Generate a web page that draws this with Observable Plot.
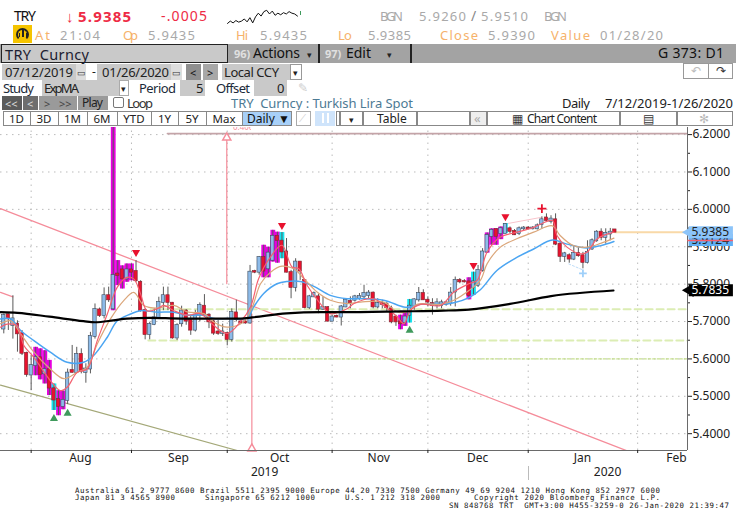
<!DOCTYPE html>
<html><head><meta charset="utf-8">
<script src="https://cdn.jsdelivr.net/npm/d3@7"></script>
<script src="https://cdn.jsdelivr.net/npm/@observablehq/plot@0.6"></script>
<style>
html,body{margin:0;padding:0;background:#fff;width:736px;height:530px;overflow:hidden;font-family:"Noto Sans",sans-serif}
#page{position:relative;width:736px;height:530px;overflow:hidden}
#page>*{position:absolute}
.t{white-space:pre;line-height:1}
.b{box-sizing:border-box}
svg{display:block}
</style></head><body><div id="page"></div>
<script>
// ---- candle data (index = trading-day position) ----
const direction = ["brbrrrbbrb","rrrbbrbrbb","brbrbrrbrr","rrbbbbrrbb","rrbbrrrrbr","brrrbrbrbb","rrrrbrrbbr","brbrbbrbbb","brbrrrrrbb","bbrrrbbbbb","rrrbbbbbrb","brrbbrbbbr","brrbrbrrbb","brbbr"].join("");
const highs = [5.720,5.720,5.769,5.702,5.676,5.618,5.609,5.631,5.627,5.622,5.596,5.533,5.515,5.514,5.573,5.636,5.631,5.627,5.587,5.671,5.747,5.736,5.790,5.792,6.25,5.863,5.849,5.854,5.854,5.863,5.809,5.734,5.698,5.734,5.765,5.792,5.792,5.751,5.694,5.741,5.732,5.717,5.730,5.750,5.772,5.721,5.703,5.703,5.693,5.672,5.734,5.757,5.701,5.703,5.850,5.837,5.874,5.904,5.899,5.944,5.939,5.938,5.922,5.837,5.868,5.859,5.810,5.770,5.779,5.773,5.766,5.739,5.717,5.717,5.743,5.761,5.766,5.770,5.775,5.797,5.783,5.779,5.761,5.757,5.752,5.741,5.717,5.717,5.727,5.759,5.761,5.791,5.785,5.766,5.761,5.761,5.757,5.752,5.791,5.819,5.815,5.812,5.817,5.832,5.850,5.895,5.937,5.948,5.948,5.953,5.962,5.953,5.946,5.953,5.954,5.954,5.954,5.961,5.980,5.988,5.983,5.988,5.916,5.885,5.881,5.903,5.899,5.885,5.916,5.921,5.943,5.948,5.948,5.949,5.945];
const bodyTops = [5.716,5.718,5.707,5.693,5.667,5.615,5.582,5.604,5.603,5.571,5.571,5.520,5.491,5.489,5.562,5.569,5.612,5.612,5.573,5.660,5.732,5.731,5.769,5.769,5.823,5.827,5.838,5.838,5.838,5.834,5.805,5.729,5.692,5.710,5.751,5.769,5.769,5.749,5.689,5.728,5.728,5.703,5.717,5.743,5.741,5.717,5.699,5.672,5.672,5.668,5.724,5.723,5.699,5.699,5.832,5.834,5.871,5.871,5.883,5.928,5.928,5.915,5.886,5.831,5.859,5.859,5.810,5.766,5.775,5.766,5.737,5.737,5.712,5.714,5.739,5.757,5.754,5.766,5.767,5.775,5.776,5.776,5.748,5.748,5.746,5.734,5.712,5.699,5.712,5.741,5.758,5.775,5.775,5.757,5.748,5.750,5.750,5.750,5.776,5.810,5.810,5.807,5.806,5.806,5.837,5.886,5.930,5.944,5.946,5.948,5.960,5.948,5.941,5.948,5.950,5.950,5.950,5.956,5.972,5.977,5.974,5.972,5.907,5.881,5.876,5.882,5.882,5.876,5.885,5.916,5.939,5.939,5.936,5.939,5.945];
const bodyBottoms = [5.680,5.707,5.689,5.667,5.615,5.558,5.557,5.582,5.558,5.560,5.522,5.490,5.473,5.473,5.489,5.564,5.564,5.567,5.564,5.573,5.660,5.716,5.716,5.758,5.734,5.823,5.814,5.814,5.832,5.809,5.729,5.665,5.665,5.692,5.710,5.751,5.751,5.656,5.656,5.694,5.701,5.677,5.677,5.717,5.717,5.699,5.669,5.668,5.668,5.652,5.652,5.705,5.696,5.696,5.696,5.832,5.832,5.835,5.841,5.864,5.917,5.886,5.832,5.791,5.791,5.835,5.737,5.737,5.766,5.733,5.733,5.701,5.701,5.712,5.712,5.739,5.750,5.757,5.761,5.766,5.770,5.739,5.739,5.746,5.737,5.699,5.699,5.694,5.697,5.717,5.741,5.758,5.758,5.752,5.743,5.743,5.743,5.746,5.748,5.779,5.806,5.806,5.770,5.791,5.797,5.837,5.886,5.928,5.928,5.935,5.935,5.941,5.932,5.935,5.948,5.948,5.948,5.948,5.959,5.970,5.968,5.907,5.874,5.874,5.867,5.867,5.876,5.858,5.858,5.894,5.916,5.925,5.925,5.934,5.939];
const lows = [5.667,5.676,5.653,5.618,5.609,5.551,5.515,5.555,5.544,5.533,5.502,5.462,5.448,5.464,5.478,5.562,5.562,5.560,5.535,5.560,5.653,5.711,5.707,5.751,5.729,5.796,5.787,5.805,5.809,5.805,5.725,5.651,5.651,5.689,5.707,5.729,5.729,5.653,5.649,5.685,5.690,5.663,5.672,5.699,5.712,5.681,5.663,5.663,5.660,5.635,5.645,5.699,5.694,5.693,5.693,5.828,5.824,5.817,5.817,5.859,5.856,5.868,5.830,5.761,5.779,5.810,5.734,5.732,5.764,5.721,5.730,5.699,5.699,5.710,5.688,5.737,5.734,5.752,5.757,5.761,5.761,5.734,5.734,5.734,5.726,5.694,5.687,5.678,5.687,5.696,5.730,5.752,5.757,5.739,5.717,5.734,5.734,5.741,5.741,5.739,5.801,5.803,5.758,5.770,5.791,5.832,5.883,5.904,5.904,5.919,5.935,5.935,5.930,5.930,5.943,5.945,5.945,5.945,5.948,5.965,5.961,5.903,5.858,5.858,5.856,5.863,5.872,5.841,5.854,5.890,5.912,5.916,5.907,5.916,5.939];
const magentaBars = [7,8,9,10,12,13,24,25,26,27,28,57,58,59,60,87,88,102,106,107,108,109];
const cyanBars = [11,61,89,103,110];

// ---- moving averages ----
const blueX = [-0.72,1.5,3.7,6.6,10.2,13.9,17.5,19.7,22.7,24.9,27.8,30,33.6,37.3,40.2,43.9,46,49,53.4,54.8,57,59.9,62.1,65,68,71.6,75.3,78.2,83.3,87.7,89.2,91.4,95.8,98.7,102,104.5,108.2,112.6,116.2,120.3,123.5,127.9,130.9,133.8];
const blueY = [5.707,5.707,5.676,5.649,5.618,5.591,5.591,5.609,5.658,5.702,5.720,5.729,5.725,5.725,5.717,5.717,5.708,5.708,5.710,5.739,5.775,5.801,5.807,5.807,5.794,5.770,5.761,5.761,5.757,5.739,5.739,5.746,5.746,5.750,5.764,5.785,5.837,5.872,5.894,5.918,5.907,5.897,5.903,5.914];
const tanX = [-0.72,1.5,3.7,6.6,10.2,13.2,16.1,18.3,20.5,23.4,26.3,28.5,30.7,33.6,37.3,40.2,43.9,46,49,52.6,54.5,56.3,58.5,61,63.6,65.8,68.7,71.6,75.3,78.2,83.3,86.3,88.5,90.6,95.8,98.7,102,104.5,106,108.9,112.6,116.2,120.3,122,124.9,127.9,130.9,133.8];
const tanY = [5.694,5.702,5.667,5.618,5.573,5.547,5.564,5.578,5.640,5.707,5.756,5.778,5.743,5.736,5.743,5.726,5.721,5.699,5.685,5.699,5.739,5.801,5.832,5.848,5.841,5.815,5.779,5.757,5.748,5.752,5.752,5.726,5.726,5.746,5.746,5.757,5.783,5.810,5.855,5.899,5.922,5.939,5.956,5.930,5.903,5.899,5.909,5.923];
const pinkX = [-0.72,0.7,2.9,4.4,6.6,10.2,12.4,13.9,16.1,18.3,20.5,22.7,24.9,27,28.5,30,31.4,33.6,35.1,37.3,40.2,43.1,46,49,51.9,54.1,55.9,58.5,61,63.2,64.7,66.5,69.4,71.6,75.3,76.8,81.1,83.3,86.3,87.7,89.2,91.4,95.8,98.7,102,103.8,106,108.9,112.6,116.2,120.3,121.3,123.5,126.5,127.9,130.1,133.8];
const pinkY = [5.685,5.693,5.689,5.636,5.604,5.542,5.515,5.524,5.564,5.573,5.649,5.720,5.792,5.818,5.814,5.774,5.729,5.734,5.743,5.729,5.717,5.721,5.690,5.668,5.699,5.739,5.815,5.873,5.904,5.846,5.841,5.797,5.748,5.721,5.734,5.748,5.761,5.743,5.712,5.694,5.730,5.746,5.743,5.779,5.801,5.810,5.886,5.926,5.939,5.952,5.970,5.930,5.899,5.881,5.885,5.921,5.939];
const blackX = [-0.72,3,10,17.5,20,24,27,32,39,52,54.5,62,69.5,74,87,96.4,102,111,120,133.7];
const blackY = [5.725,5.723,5.713,5.701,5.698,5.703,5.708,5.710,5.708,5.708,5.711,5.722,5.725,5.725,5.727,5.729,5.732,5.747,5.768,5.783];

// ---- drawn lines, signals, labels ----
const signalDownX = [29,61,103,110]; const signalDownY = [5.885,5.957,5.850,5.981];
const signalUpX = [11,14,89]; const signalUpY = [5.440,5.454,5.676];
const monthTicks = [6,28,49,72,93,115,139];
const monthNames = ["Aug","Sep","Oct","Nov","Dec","Jan","Feb"];
const monthLabelAt = [16.8,38.3,60.5,82.2,103.9,126.9,147.5];
const yearNames = ["2019","2020"]; const yearLabelAt = [57.2,132.4];
const priceTicks = [5.4,5.5,5.6,5.7,5.8,5.9,6.0,6.1,6.2];
const minorTicks = [5.45,5.55,5.65,5.75,5.85,5.95,6.05,6.15];
const spark = [5.47,5.56,5.49,5.58,5.52,5.56,5.64,5.53,5.69,5.49,5.72,5.86,5.75,5.92,5.97,5.83,5.94,5.78,5.86,5.80,5.88,5.83,5.92,5.86,5.83,5.75];

const X0=-0.72, X1=149.93, Y0=5.355, Y1=6.219;
const rows=(xs,ys)=>xs.map((x,i)=>({x,y:ys[i]}));
const bars=highs.map((h,i)=>({i,h,t:bodyTops[i],b:bodyBottoms[i],l:lows[i],d:direction[i]}));
const seg=(x1,y1,x2,y2)=>[{x:x1,y:y1},{x:x2,y:y2}];
const line=(data,o)=>Plot.line(data,{x:"x",y:"y",clip:true,...o});

const chart=Plot.plot({
  width:736,height:365,marginLeft:0,marginRight:49,marginTop:10,marginBottom:32,
  x:{domain:[X0,X1],range:[0,687]},y:{domain:[Y0,Y1],range:[333,10]},
  style:{fontFamily:"Noto Sans",fontSize:"12px",background:"transparent",color:"#222"},
  marks:[
    Plot.ruleY(priceTicks,{stroke:"#bbb",strokeWidth:1,strokeDasharray:"1.5,4.5",x1:X0,x2:X1}),
    Plot.ruleX(monthTicks,{stroke:"#bbb",strokeWidth:1,strokeDasharray:"1.5,4.5",y1:Y0,y2:Y1}),
    line(seg(-0.72,6.002,136.7,5.354),{stroke:"#f58c9a",strokeWidth:1.3}),
    line(seg(-0.72,5.778,2,5.766),{stroke:"#f58c9a",strokeWidth:1.2}),
    line(seg(-0.72,5.530,51.2,5.355),{stroke:"#a4a878",strokeWidth:1.2}),
    line(seg(35.9,6.2027,X1,6.2027),{stroke:"#c4a4a8",strokeWidth:1.8}),
    line(seg(32.2,5.733,X1,5.733),{stroke:"#dcedb4",strokeWidth:2,strokeDasharray:"7,4"}),
    line(seg(31.7,5.649,X1,5.649),{stroke:"#dcedb4",strokeWidth:2,strokeDasharray:"7,4"}),
    line(seg(30.8,5.600,X1,5.600),{stroke:"#c6e08e",strokeWidth:1.3,strokeDasharray:"2.5,2"}),
    line(seg(48.9,6.2,48.9,5.801),{stroke:"#f58c9a",strokeWidth:1.2}),
    line(seg(54.4,5.72,54.4,5.355),{stroke:"#f58c9a",strokeWidth:1.2}),
    line(seg(110,5.961,118,5.979),{stroke:"#f8c4cc",strokeWidth:1}),
    line(seg(123.9,5.854,126.8,5.839),{stroke:"#bcdcf8",strokeWidth:1,strokeDasharray:"2,2"}),
    line(seg(134,5.9385,X1,5.9385),{stroke:"#f9d9a8",strokeWidth:2}),
    Plot.dot([{x:48.9,y:6.192}],{x:"x",y:"y",symbol:"triangle",r:3,stroke:"#f58c9a",fill:"white"}),
    Plot.dot([{x:54.4,y:5.36}],{x:"x",y:"y",symbol:"triangle",r:3,stroke:"#f58c9a",fill:"white"}),
    Plot.ruleX(bars.filter(d=>magentaBars.includes(d.i)),{x:"i",y1:"l",y2:"h",stroke:"#e800e0",strokeWidth:4.8,clip:true}),
    Plot.ruleX(bars.filter(d=>cyanBars.includes(d.i)),{x:"i",y1:"l",y2:"h",stroke:"#14e6f2",strokeWidth:4.8,clip:true}),
    Plot.ruleX(bars,{x:"i",y1:"l",y2:"h",stroke:"#5a5a5a",strokeWidth:1,clip:true}),
    Plot.rect(bars,{x1:d=>d.i-0.37,x2:d=>d.i+0.37,y1:"b",y2:"t",insetTop:-0.5,insetBottom:-0.5,
      fill:d=>d.d==="b"?"#8dbbe9":"#e8122e",stroke:d=>d.d==="b"?"#3c4a5a":"#7a2a34",strokeWidth:0.6}),
    line(rows(blueX,blueY),{stroke:"#4ba5f2",strokeWidth:1.5,curve:"catmull-rom"}),
    line(rows(tanX,tanY),{stroke:"#dba67a",strokeWidth:1.2,curve:"catmull-rom"}),
    line(rows(pinkX,pinkY),{stroke:"#f4606f",strokeWidth:1.2,curve:"catmull-rom"}),
    line(rows(blackX,blackY),{stroke:"#000",strokeWidth:2.2,curve:"monotone-x"}),
    Plot.dot(rows(signalDownX,signalDownY),{x:"x",y:"y",symbol:"triangle",r:3,fill:"#e8122e",rotate:180}),
    Plot.dot(rows(signalUpX,signalUpY),{x:"x",y:"y",symbol:"triangle",r:3,fill:"#3f9a5c"}),
    Plot.dot([{x:118,y:6.002}],{x:"x",y:"y",symbol:"plus",r:3,stroke:"#e8122e",strokeWidth:1.8}),
    Plot.dot([{x:127,y:5.829}],{x:"x",y:"y",symbol:"plus",r:2.6,stroke:"#9fd0fa",strokeWidth:1.8}),
    // frame
    Plot.ruleY([Y0],{x1:X0,x2:X1,stroke:"#6a6a6a",strokeWidth:1}),
    Plot.ruleX([X1],{y1:Y0,y2:Y1,stroke:"#6a6a6a",strokeWidth:1}),
    // axes
    Plot.axisY(priceTicks,{anchor:"right",label:null,tickSize:4,tickPadding:1,tickFormat:d3.format(".4f"),fontSize:12,fill:"#222"}),
    Plot.axisY(minorTicks,{anchor:"right",label:null,tickSize:2,tickFormat:()=>""}),
    Plot.axisX(monthTicks,{label:null,tickSize:3,tickFormat:()=>""}),
    Plot.axisX(monthLabelAt,{label:null,tickSize:0,tickPadding:3,tickFormat:(d,i)=>monthNames[i],fontSize:12,fill:"#222"}),
    Plot.axisX(yearLabelAt,{label:null,tickSize:0,tickPadding:17,tickFormat:(d,i)=>yearNames[i],fontSize:12,fill:"#222"}),
    // end-of-series tags
    Plot.ruleY([5.7835],{x1:150.3,x2:160,stroke:"#000",strokeWidth:12}),
    Plot.dot([{x:150.4,y:5.7835}],{x:"x",y:"y",symbol:"triangle",r:5,fill:"#000",rotate:-90}),
    Plot.text([5.7835],{x:150.8,y:d=>d,text:d=>d.toFixed(4),textAnchor:"start",fill:"#fff",fontSize:12}),
    Plot.ruleY([5.918],{x1:150.3,x2:160,stroke:"#5fb0f6",strokeWidth:12}),
    Plot.text([5.9124],{x:150.8,y:()=>5.918,text:d=>d.toFixed(4),textAnchor:"start",fill:"#222",fontSize:12}),
    Plot.ruleY([5.9166],{x1:150,x2:160,stroke:"#f4606f",strokeWidth:1.6}),
    Plot.ruleY([5.9385],{x1:150.3,x2:160,stroke:"#8cc4f9",strokeWidth:12}),
    Plot.dot([{x:150.4,y:5.9385}],{x:"x",y:"y",symbol:"triangle",r:5,fill:"#8cc4f9",rotate:-90}),
    Plot.text([5.9385],{x:150.8,y:d=>d,text:d=>d.toFixed(4),textAnchor:"start",fill:"#222",fontSize:12})
  ]
});
chart.style.left="0";chart.style.top="117px";

const page=document.getElementById("page");
page.appendChild(chart);

// sparkline in the quote strip
const sparkPlot=Plot.plot({width:72,height:16,margin:0,axis:null,x:{domain:[0,spark.length-1],range:[1,71]},y:{domain:[5.43,6.0],range:[16,1]},
  style:{background:"transparent"},
  marks:[Plot.line(spark,{x:(d,i)=>i,y:d=>d,stroke:"#111",strokeWidth:1})]});
sparkPlot.style.left="226px";sparkPlot.style.top="8px";
page.appendChild(sparkPlot);

// ---- terminal chrome ----
function box(x,y,w,h,bg,border,extra){const e=document.createElement("div");e.className="b";
  e.style.cssText=`left:${x}px;top:${y}px;width:${w}px;height:${h}px;background:${bg||"transparent"};${border?`border:1px solid ${border};`:""}${extra||""}`;page.appendChild(e);return e;}
function t(s,x,cy,o={}){const e=document.createElement("span");e.className="t";e.textContent=s;
  e.style.cssText=`left:${x}px;top:${cy}px;transform:translateY(-50%);font-size:${o.size||13}px;color:${o.color||"#222"};font-family:${o.family||'"Noto Sans"'};${o.bold?"font-weight:700;":""}`;
  page.appendChild(e);
  if(o.w){const m=e.getBoundingClientRect().width;e.style.letterSpacing=((o.w-m)/Math.max(1,s.length-1))+"px";}
  return e;}
const GR="#a9a9a9",OR="#f6b26b",RED="#ee2b45";
// row 1
t("TRY",14,16,{size:14,w:22,color:"#111"});
t("↓",66,16,{size:15,color:RED});
t("5.9385",78,16,{size:15,bold:true,w:53,color:RED});
t("-.0005",161,16,{size:14,w:46,color:RED});
box(299.5,11,1.5,4,"#3f9a5c");
t("BGN",380,16,{w:23,color:GR});t("5.9260",419,16,{w:47,color:GR});t("/",471,16,{size:14,color:"#888"});t("5.9510",481,16,{w:47,color:GR});t("BGN",544,16,{w:23,color:GR});
// row 2
box(13,25,19,18,"#f5c400");
box(16,28,13,13,"transparent","#222","border-width:2px;border-radius:50%;border-bottom-color:transparent;");
box(22,30,1.6,7,"#222");box(18.5,33,1.4,4,"#222");box(25.5,33,1.4,4,"#222");
t("At",35,35,{w:15,color:OR});t("21:04",60,35,{w:40,color:GR});
t("Op",123,35,{w:15,color:OR});t("5.9435",148,35,{w:47,color:GR});
t("Hi",236,35,{w:12,color:OR});t("5.9435",260,35,{w:47,color:GR});
t("Lo",338,35,{w:14,color:OR});t("5.9385",368,35,{w:43,color:GR});
t("Close",440,35,{w:38,color:OR});t("5.9390",488,35,{w:47,color:GR});
t("Value",551,35,{w:39,color:OR});t("01/28/20",600,35,{w:63,color:GR});
// row 3
box(0,44,736,19,"#a3a3a3");
box(1,44,227,19,"#c9c9c9","#222");
t("TRY  Curncy",5,54,{size:14.5,w:84,color:"#1c2030"});
t("96)",234,53,{size:11,bold:true,color:"#e0e0e0"});t("Actions",253,53,{size:14,w:47,color:"#111"});t("▾",307,54,{size:9,color:"#222"});
box(318,44,1.5,19,"#222");
t("97)",325,53,{size:11,bold:true,color:"#e0e0e0"});t("Edit",346,53,{size:14,w:25,color:"#111"});t("▾",387,54,{size:9,color:"#222"});
box(410,44,1.5,19,"#222");
t("G 373: D1",658,53,{size:14,w:66,color:"#111"});
// row 4
box(2,64,74,16,"#c9c9c9");t("07/12/2019",5,72,{w:68,color:"#222"});
box(76,64,10,16,"#ddd");t("▭",77,72,{size:9,color:"#333"});
t("-",92,72,{size:12});
box(97,64,74,16,"#c9c9c9");t("01/26/2020",102,72,{w:67,color:"#222"});
box(171,64,11,16,"#ddd");t("▭",172,72,{size:9,color:"#333"});
box(186,64,15,16,"#8f8f8f");t("<",190,72,{size:11,color:"#111"});
box(203,64,15,16,"#a8a8a8");t(">",207,72,{size:11,color:"#111"});
box(222,64,68,16,"#c9c9c9");t("Local CCY",224,72,{w:55,color:"#222"});
box(290,64,12,16,"#fff","#999");t("▾",293,72,{size:9});
box(683,63,26,16,"#fff","#999");box(708,63,25,16,"#fff","#999");
t("↶",691,71,{size:12,color:"#bbb"});t("↷",716,71,{size:12,color:"#333"});
// row 5
t("Study",3,88,{w:31,color:"#1c2a3a"});
box(42,80,77,16,"#c9c9c9");t("ExpMA",44,88,{w:35,color:"#222"});
box(119,80,10,16,"#fff","#aaa");t("▾",121,88,{size:9});
t("Period",139,88,{w:37,color:"#1c2a3a"});
box(180,80,25,16,"#c9c9c9");t("5",196,88,{color:"#222"});
t("Offset",216,88,{w:34,color:"#1c2a3a"});
box(254,80,33,16,"#c9c9c9");t("0",277,88,{color:"#222"});
t("✎",298,88,{size:12,color:"#ccc"});
// row 6
[[2,20,"#5b5b5b","<<",5],[23,15,"#6e6e6e","<",27],[39,16,"#9a9a9a",">",44],[55,22,"#9a9a9a",">>",59]].forEach(b=>{box(b[0],96,b[1],14,b[2]);t(b[3],b[4],103,{size:11,color:b[2]==="#9a9a9a"?"#444":"#ddd"});});
box(78,96,30,14,"#9a9a9a");t("Play",82,103,{size:12,w:21,color:"#222"});
box(113,97,11,11,"#fff","#777","border-radius:2px;");t("Loop",127,103,{w:26,color:"#333"});
t("TRY  Curncy : Turkish Lira Spot",231,103,{w:182,color:"#4d7a94"});
t("Daily",562,103,{w:28,color:"#222"});t("7/12/2019-1/26/2020",605,103,{w:128,color:"#222"});
// row 7
box(0,110,736,17,"#fff");
const tabs=[[3,27,"1D"],[30,28,"3D"],[58,29,"1M"],[87,30,"6M"],[117,34,"YTD"],[151,27,"1Y"],[178,28,"5Y"],[206,36,"Max"]];
tabs.forEach(b=>{box(b[0],111,b[1]+1,15,"#fff","#888");const e=t(b[2],b[0]+b[1]/2,119,{size:11.5,color:"#222"});e.style.transform="translate(-50%,-50%)";});
box(242,111,50,15,"#a8d0f8","#888");t("Daily ▼",247,119,{size:12,color:"#111"});
box(296,111,15,15,"#fff","#aaa");t("⟋",299,118,{size:10,color:"#ccc"});
box(315,111,20,15,"#cfe4fb");box(322,113,1.5,10,"#fff");box(327,113,1.5,10,"#fff");
box(336,111,4,15,"#fff","#888");box(340,111,23,15,"#fff","#888");t("▾",349,119,{size:9});
box(363,111,54,15,"#fff","#888");t("Table",377,119,{size:12,color:"#222"});
box(417,111,53,15,"#fff","#888");
box(470,111,17,15,"#eee","#888");t("«",474,118,{size:13,color:"#aaa"});
box(487,111,133,15,"#fff","#888");t("▦",512,119,{size:12,color:"#333"});t("Chart Content",527,119,{size:12,w:70,color:"#222"});
box(620,111,57,15,"#fff","#888");t("▤",643,119,{size:12,color:"#333"});
box(677,111,56,15,"#fff","#888");t("✻",699,119,{size:12,color:"#bbb"});
// chart-top sliver label
const sliver=box(233,127,18,4,"#fff","", "overflow:hidden;");
const sl=document.createElement("span");sl.textContent="0.4068";sl.style.cssText="position:absolute;left:0;top:-4px;font-size:8px;color:#f58c9a;line-height:1;white-space:pre";sliver.appendChild(sl);
// footer
const F={size:7.4,family:'"DejaVu Sans Mono"',color:"#111"};
t("Australia 61 2 9777 8600 Brazil 5511 2395 9000 Europe 44 20 7330 7500 Germany 49 69 9204 1210 Hong Kong 852 2977 6000",75,490.5,{...F,w:585});
t("Japan 81 3 4565 8900",75,498,{...F,w:100});t("Singapore 65 6212 1000",205,498,{...F,w:110});t("U.S. 1 212 318 2000",345,498,{...F,w:95});
t("Copyright 2020 Bloomberg Finance L.P.",474,498,{...F,w:186});
t("SN 848768 TRT  GMT+3:00 H455-3259-0 26-Jan-2020 21:39:47",449,505.5,{...F,w:280});
box(527.5,466,1,14,"#bbb");
</script></body></html>
